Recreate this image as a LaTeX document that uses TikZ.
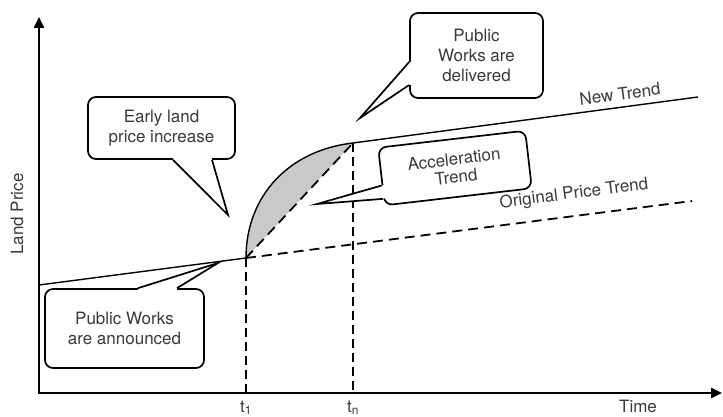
\documentclass[tikz,border=0pt]{standalone}
\usepackage{fontspec}
\setmainfont{TeX Gyre Heros}
\usetikzlibrary{arrows.meta,calc}
\definecolor{accelgray}{HTML}{C8C9C9}
\definecolor{labelgray}{HTML}{3A3A3A}

\begin{document}
\begin{tikzpicture}[x=1pt,y=-1pt,
  callbox/.style={draw, line width=1.7pt, rounded corners=8pt, fill=white, align=center,
    text=labelgray, font=\fontsize{17}{20}\selectfont, inner sep=0pt},
  pointer/.style={line width=1.7pt, line join=miter},
  trend/.style={line width=1.4pt},
  guide/.style={line width=1.8pt, dash pattern=on 10pt off 6pt},
  axislabel/.style={text=labelgray, font=\fontsize{17}{20}\selectfont, inner sep=0pt}]
\useasboundingbox (0,0) rectangle (723,417);

\coordinate (o) at (39,393);
\coordinate (ytop) at (39,17);
\coordinate (xend) at (722,393);
\coordinate (origstart) at (39,285);
\coordinate (p1) at (246,258);
\coordinate (pn) at (353,143);
\coordinate (origend) at (692,201);
\coordinate (newend) at (698,97);

% acceleration area
\fill[accelgray] (p1) .. controls (246,195) and (290,150) .. (pn) -- cycle;
\draw[trend] (p1) .. controls (246,195) and (290,150) .. (pn);
\draw[guide] (p1) -- (pn);

\draw[trend] (origstart) -- (p1);
\draw[guide] (p1) -- (origend);
\draw[trend] (pn) -- (newend);
\draw[guide, dash pattern=on 9pt off 5pt] (p1) -- (p1 |- o);
\draw[guide, dash pattern=on 9pt off 5pt] (pn) -- (pn |- o);

\draw[line width=2.5pt, line join=miter, {Triangle[length=11pt,width=10pt]}-{Triangle[length=11pt,width=10pt]}]
  (ytop) -- (o) -- (xend);

\node[axislabel, rotate=90] (ylab) at (17,214) {Land Price};
\node[axislabel] (xlab) at (638,406) {Time};
\node[axislabel] (t1) at (246,408) {t\textsubscript{1}};
\node[axislabel] (tn) at (353,408) {t\textsubscript{n}};
\node[axislabel, rotate=7.4] (newlab) at (620,94) {New Trend};
\node[axislabel, rotate=7.4] (origlab) at (574,194) {Original Price Trend};

% callouts
\node[callbox, minimum width=147pt, minimum height=62pt] (early) at (161.5,128) {Early land\\price increase};
\coordinate (ea) at ($(early.south)+(11.5,0)$);
\coordinate (eb) at ($(early.south)+(50.5,0)$);
\coordinate (et) at (228,215);
\fill[white] ($(ea)+(0,-3)$) -- (ea) -- (et) -- (eb) -- ($(eb)+(0,-3)$) -- cycle;
\draw[pointer] (ea) -- (et) -- (eb);

\node[callbox, minimum width=133pt, minimum height=85pt] (deliv) at (476.5,55.5) {Public\\Works are\\delivered};
\coordinate (da) at ($(deliv.west)+(0,6.5)$);
\coordinate (db) at ($(deliv.west)+(0,29.5)$);
\coordinate (dt) at (360,118);
\fill[white] ($(da)+(3,0)$) -- (da) -- (dt) -- (db) -- ($(db)+(3,0)$) -- cycle;
\draw[pointer] (da) -- (dt) -- (db);

\node[callbox, minimum width=159pt, minimum height=79pt] (announce) at (124.5,328.5) {Public Works\\are announced};
\coordinate (aa) at ($(announce.north)+(13.5,0)$);
\coordinate (ab) at ($(announce.north)+(52.5,0)$);
\coordinate (at) at (218,263);
\fill[white] ($(aa)+(0,3)$) -- (aa) -- (at) -- (ab) -- ($(ab)+(0,3)$) -- cycle;
\draw[pointer] (aa) -- (at) -- (ab);

\node[callbox, minimum width=148pt, minimum height=58pt, rotate=6.6,
  font=\fontsize{17}{18}\selectfont] (accel) at (455,168) {Acceleration\\Trend};
\coordinate (ca) at ($(accel.west)!0.3!(accel.south west)$);
\coordinate (cb) at ($(accel.west)!0.75!(accel.south west)$);
\coordinate (ct) at (317,204);
\fill[white] ($(ca)!3pt!(accel.east)$) -- (ca) -- (ct) -- (cb) -- ($(cb)!3pt!(accel.east)$) -- cycle;
\draw[pointer] (ca) -- (ct) -- (cb);
\end{tikzpicture}
\end{document}
